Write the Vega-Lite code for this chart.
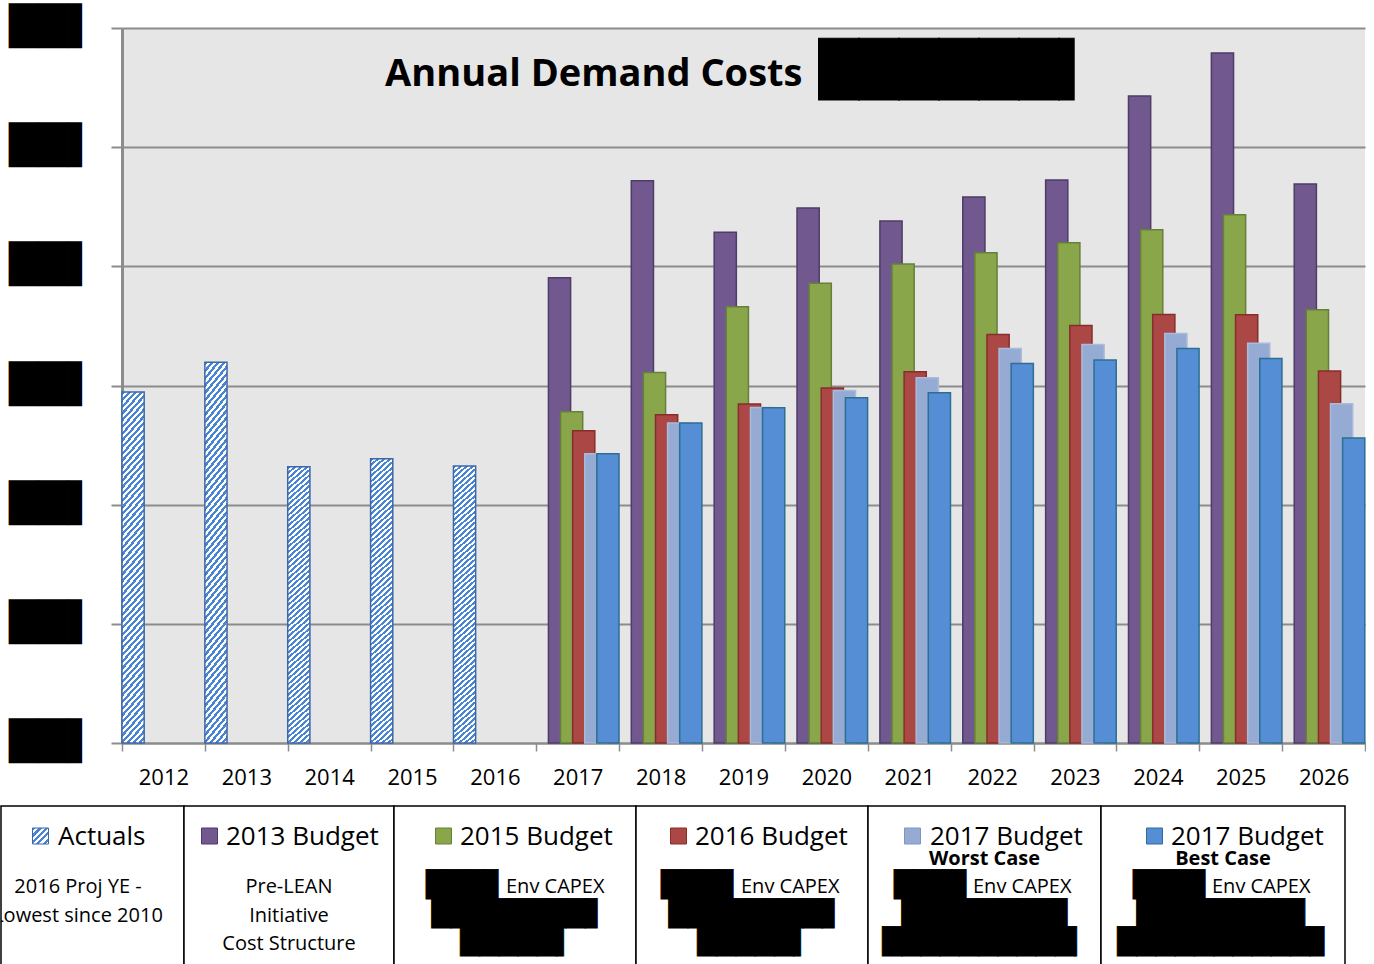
{
"$schema": "https://vega.github.io/schema/vega-lite/v6.json",
"background": "white",
"padding": {"left": 0, "top": 8, "right": 0, "bottom": 0},
"spacing": 17,
"config": {"view": {"stroke": null}, "font": "Open Sans"},
"datasets": {
"bars": [
{"year":"2012","series":"Actuals","value":2.945},
{"year":"2013","series":"Actuals","value":3.196},
{"year":"2014","series":"Actuals","value":2.319},
{"year":"2015","series":"Actuals","value":2.386},
{"year":"2016","series":"Actuals","value":2.325},
{"year":"2017","series":"2013 Budget","value":3.905},
{"year":"2017","series":"2015 Budget","value":2.780},
{"year":"2017","series":"2016 Budget","value":2.620},
{"year":"2017","series":"2017 Budget Worst Case","value":2.428},
{"year":"2017","series":"2017 Budget Best Case","value":2.428},
{"year":"2018","series":"2013 Budget","value":4.718},
{"year":"2018","series":"2015 Budget","value":3.109},
{"year":"2018","series":"2016 Budget","value":2.755},
{"year":"2018","series":"2017 Budget Worst Case","value":2.685},
{"year":"2018","series":"2017 Budget Best Case","value":2.685},
{"year":"2019","series":"2013 Budget","value":4.286},
{"year":"2019","series":"2015 Budget","value":3.660},
{"year":"2019","series":"2016 Budget","value":2.844},
{"year":"2019","series":"2017 Budget Worst Case","value":2.816},
{"year":"2019","series":"2017 Budget Best Case","value":2.813},
{"year":"2020","series":"2013 Budget","value":4.489},
{"year":"2020","series":"2015 Budget","value":3.858},
{"year":"2020","series":"2016 Budget","value":2.978},
{"year":"2020","series":"2017 Budget Worst Case","value":2.958},
{"year":"2020","series":"2017 Budget Best Case","value":2.897},
{"year":"2021","series":"2013 Budget","value":4.380},
{"year":"2021","series":"2015 Budget","value":4.020},
{"year":"2021","series":"2016 Budget","value":3.115},
{"year":"2021","series":"2017 Budget Worst Case","value":3.065},
{"year":"2021","series":"2017 Budget Best Case","value":2.939},
{"year":"2022","series":"2013 Budget","value":4.581},
{"year":"2022","series":"2015 Budget","value":4.115},
{"year":"2022","series":"2016 Budget","value":3.428},
{"year":"2022","series":"2017 Budget Worst Case","value":3.311},
{"year":"2022","series":"2017 Budget Best Case","value":3.185},
{"year":"2023","series":"2013 Budget","value":4.724},
{"year":"2023","series":"2015 Budget","value":4.198},
{"year":"2023","series":"2016 Budget","value":3.503},
{"year":"2023","series":"2017 Budget Worst Case","value":3.344},
{"year":"2023","series":"2017 Budget Best Case","value":3.213},
{"year":"2024","series":"2013 Budget","value":5.430},
{"year":"2024","series":"2015 Budget","value":4.307},
{"year":"2024","series":"2016 Budget","value":3.595},
{"year":"2024","series":"2017 Budget Worst Case","value":3.436},
{"year":"2024","series":"2017 Budget Best Case","value":3.310},
{"year":"2025","series":"2013 Budget","value":5.791},
{"year":"2025","series":"2015 Budget","value":4.433},
{"year":"2025","series":"2016 Budget","value":3.593},
{"year":"2025","series":"2017 Budget Worst Case","value":3.355},
{"year":"2025","series":"2017 Budget Best Case","value":3.226},
{"year":"2026","series":"2013 Budget","value":4.691},
{"year":"2026","series":"2015 Budget","value":3.635},
{"year":"2026","series":"2016 Budget","value":3.121},
{"year":"2026","series":"2017 Budget Worst Case","value":2.847},
{"year":"2026","series":"2017 Budget Best Case","value":2.559}
],
"legend": [
{"cell":"Actuals","row":"title","kind":"icon"},
{"cell":"Actuals","row":"title","kind":"title","text":"Actuals"},
{"cell":"Actuals","row":"l1","kind":"note","text":"2016 Proj YE -"},
{"cell":"Actuals","row":"l2","kind":"note","text":"Lowest since 2010"},
{"cell":"2013 Budget","row":"title","kind":"icon"},
{"cell":"2013 Budget","row":"title","kind":"title","text":"2013 Budget"},
{"cell":"2013 Budget","row":"l1","kind":"note","text":"Pre-LEAN"},
{"cell":"2013 Budget","row":"l2","kind":"note","text":"Initiative"},
{"cell":"2013 Budget","row":"l3","kind":"note","text":"Cost Structure"},
{"cell":"2015 Budget","row":"title","kind":"icon"},
{"cell":"2015 Budget","row":"title","kind":"title","text":"2015 Budget"},
{"cell":"2015 Budget","row":"l1","kind":"redact1","text":"███▊"},
{"cell":"2015 Budget","row":"l1","kind":"env","text":"Env CAPEX"},
{"cell":"2015 Budget","row":"l2","kind":"redact","text":"████████▋"},
{"cell":"2015 Budget","row":"l3","kind":"redact","text":"█████▍"},
{"cell":"2016 Budget","row":"title","kind":"icon"},
{"cell":"2016 Budget","row":"title","kind":"title","text":"2016 Budget"},
{"cell":"2016 Budget","row":"l1","kind":"redact1","text":"███▊"},
{"cell":"2016 Budget","row":"l1","kind":"env","text":"Env CAPEX"},
{"cell":"2016 Budget","row":"l2","kind":"redact","text":"████████▋"},
{"cell":"2016 Budget","row":"l3","kind":"redact","text":"█████▍"},
{"cell":"2017 Budget Worst Case","row":"title","kind":"icon"},
{"cell":"2017 Budget Worst Case","row":"title","kind":"title","text":"2017 Budget"},
{"cell":"2017 Budget Worst Case","row":"case","kind":"case","text":"Worst Case"},
{"cell":"2017 Budget Worst Case","row":"l1","kind":"redact1","text":"███▊"},
{"cell":"2017 Budget Worst Case","row":"l1","kind":"env","text":"Env CAPEX"},
{"cell":"2017 Budget Worst Case","row":"l2","kind":"redact","text":"████████▋"},
{"cell":"2017 Budget Worst Case","row":"l3","kind":"redact","text":"██████████▏"},
{"cell":"2017 Budget Best Case","row":"title","kind":"icon"},
{"cell":"2017 Budget Best Case","row":"title","kind":"title","text":"2017 Budget"},
{"cell":"2017 Budget Best Case","row":"case","kind":"case","text":"Best Case"},
{"cell":"2017 Budget Best Case","row":"l1","kind":"redact1","text":"███▊"},
{"cell":"2017 Budget Best Case","row":"l1","kind":"env","text":"Env CAPEX"},
{"cell":"2017 Budget Best Case","row":"l2","kind":"redact","text":"████████▊"},
{"cell":"2017 Budget Best Case","row":"l3","kind":"redact","text":"██████████▊"}
]
},
"vconcat": [
{
"hconcat": [
{
"width": 1,
"height": 715,
"view": {"fill": "#fff", "stroke": null},
"data": {"values": []},
"mark": "point"
},
{
"width": 1243,
"height": 715,
"view": {"fill": "#e6e6e6", "stroke": null},
"data": {"name": "bars"},
"layer": [
{
"transform": [{"filter": "datum.series != 'Actuals'"}],
"mark": {"type": "bar", "width": {"band": 1.833}, "strokeWidth": 1.5},
"encoding": {
"x": {"field": "year", "type": "ordinal", "scale": {"paddingInner": 0, "paddingOuter": 0},
"axis": {"title": null, "labelAngle": 0, "labelFont": "Open Sans", "labelFontSize": 22, "labelColor": "#000", "labelPadding": 16, "tickBand": "extent", "tickSize": 8, "tickColor": "#8c8c8c", "tickWidth": 1.5, "domainColor": "#8c8c8c", "domainWidth": 2, "grid": false}},
"xOffset": {"field": "series", "type": "nominal", "scale": {"domain": ["Actuals", "2013 Budget", "2015 Budget", "2016 Budget", "2017 Budget Worst Case", "2017 Budget Best Case"], "paddingInner": 0, "paddingOuter": 0, "range": [34.51, 107.11]}},
"y": {"field": "value", "type": "quantitative", "scale": {"domain": [0, 6], "nice": false},
"axis": {"title": null, "values": [0, 1, 2, 3, 4, 5, 6], "labelExpr": "'██▌'", "labelFont": "DejaVu Sans", "labelFontSize": 38, "labelColor": "#000", "labelPadding": 15, "labelOffset": -0.5, "tickSize": 11, "tickColor": "#8c8c8c", "tickWidth": 2, "domainColor": "#8c8c8c", "domainWidth": 3, "grid": true, "gridColor": "#8c8c8c", "gridWidth": 2, "minExtent": 120}},
"fill": {"field": "series", "type": "nominal", "legend": null, "scale": {"domain": ["2013 Budget", "2015 Budget", "2016 Budget", "2017 Budget Worst Case", "2017 Budget Best Case"], "range": ["#71588f", "#8aa64b", "#ab4744", "#95abd3", "#558ed5"]}},
"stroke": {"field": "series", "type": "nominal", "legend": null, "scale": {"domain": ["2013 Budget", "2015 Budget", "2016 Budget", "2017 Budget Worst Case", "2017 Budget Best Case"], "range": ["#4e3d66", "#66803a", "#862e2c", "#aabbd9", "#2c6f92"]}}
}
},
{
"transform": [{"filter": "datum.series == 'Actuals'"}],
"mark": {"type": "bar", "width": {"band": 1.833}, "strokeWidth": 1.5, "stroke": "#3d68a8",
"fill": {"gradient": "linear", "x1": 0, "y1": 0, "x2": 0.075, "y2": 1.065, "stops": [
{"offset":0,"color":"#4a84d4"},
{"offset":0.00893,"color":"#4a84d4"},{"offset":0.00893,"color":"#fff"},
{"offset":0.01786,"color":"#fff"},{"offset":0.01786,"color":"#4a84d4"},
{"offset":0.02679,"color":"#4a84d4"},{"offset":0.02679,"color":"#fff"},
{"offset":0.03571,"color":"#fff"},{"offset":0.03571,"color":"#4a84d4"},
{"offset":0.04464,"color":"#4a84d4"},{"offset":0.04464,"color":"#fff"},
{"offset":0.05357,"color":"#fff"},{"offset":0.05357,"color":"#4a84d4"},
{"offset":0.0625,"color":"#4a84d4"},{"offset":0.0625,"color":"#fff"},
{"offset":0.07143,"color":"#fff"},{"offset":0.07143,"color":"#4a84d4"},
{"offset":0.08036,"color":"#4a84d4"},{"offset":0.08036,"color":"#fff"},
{"offset":0.08929,"color":"#fff"},{"offset":0.08929,"color":"#4a84d4"},
{"offset":0.09821,"color":"#4a84d4"},{"offset":0.09821,"color":"#fff"},
{"offset":0.10714,"color":"#fff"},{"offset":0.10714,"color":"#4a84d4"},
{"offset":0.11607,"color":"#4a84d4"},{"offset":0.11607,"color":"#fff"},
{"offset":0.125,"color":"#fff"},{"offset":0.125,"color":"#4a84d4"},
{"offset":0.13393,"color":"#4a84d4"},{"offset":0.13393,"color":"#fff"},
{"offset":0.14286,"color":"#fff"},{"offset":0.14286,"color":"#4a84d4"},
{"offset":0.15179,"color":"#4a84d4"},{"offset":0.15179,"color":"#fff"},
{"offset":0.16071,"color":"#fff"},{"offset":0.16071,"color":"#4a84d4"},
{"offset":0.16964,"color":"#4a84d4"},{"offset":0.16964,"color":"#fff"},
{"offset":0.17857,"color":"#fff"},{"offset":0.17857,"color":"#4a84d4"},
{"offset":0.1875,"color":"#4a84d4"},{"offset":0.1875,"color":"#fff"},
{"offset":0.19643,"color":"#fff"},{"offset":0.19643,"color":"#4a84d4"},
{"offset":0.20536,"color":"#4a84d4"},{"offset":0.20536,"color":"#fff"},
{"offset":0.21429,"color":"#fff"},{"offset":0.21429,"color":"#4a84d4"},
{"offset":0.22321,"color":"#4a84d4"},{"offset":0.22321,"color":"#fff"},
{"offset":0.23214,"color":"#fff"},{"offset":0.23214,"color":"#4a84d4"},
{"offset":0.24107,"color":"#4a84d4"},{"offset":0.24107,"color":"#fff"},
{"offset":0.25,"color":"#fff"},{"offset":0.25,"color":"#4a84d4"},
{"offset":0.25893,"color":"#4a84d4"},{"offset":0.25893,"color":"#fff"},
{"offset":0.26786,"color":"#fff"},{"offset":0.26786,"color":"#4a84d4"},
{"offset":0.27679,"color":"#4a84d4"},{"offset":0.27679,"color":"#fff"},
{"offset":0.28571,"color":"#fff"},{"offset":0.28571,"color":"#4a84d4"},
{"offset":0.29464,"color":"#4a84d4"},{"offset":0.29464,"color":"#fff"},
{"offset":0.30357,"color":"#fff"},{"offset":0.30357,"color":"#4a84d4"},
{"offset":0.3125,"color":"#4a84d4"},{"offset":0.3125,"color":"#fff"},
{"offset":0.32143,"color":"#fff"},{"offset":0.32143,"color":"#4a84d4"},
{"offset":0.33036,"color":"#4a84d4"},{"offset":0.33036,"color":"#fff"},
{"offset":0.33929,"color":"#fff"},{"offset":0.33929,"color":"#4a84d4"},
{"offset":0.34821,"color":"#4a84d4"},{"offset":0.34821,"color":"#fff"},
{"offset":0.35714,"color":"#fff"},{"offset":0.35714,"color":"#4a84d4"},
{"offset":0.36607,"color":"#4a84d4"},{"offset":0.36607,"color":"#fff"},
{"offset":0.375,"color":"#fff"},{"offset":0.375,"color":"#4a84d4"},
{"offset":0.38393,"color":"#4a84d4"},{"offset":0.38393,"color":"#fff"},
{"offset":0.39286,"color":"#fff"},{"offset":0.39286,"color":"#4a84d4"},
{"offset":0.40179,"color":"#4a84d4"},{"offset":0.40179,"color":"#fff"},
{"offset":0.41071,"color":"#fff"},{"offset":0.41071,"color":"#4a84d4"},
{"offset":0.41964,"color":"#4a84d4"},{"offset":0.41964,"color":"#fff"},
{"offset":0.42857,"color":"#fff"},{"offset":0.42857,"color":"#4a84d4"},
{"offset":0.4375,"color":"#4a84d4"},{"offset":0.4375,"color":"#fff"},
{"offset":0.44643,"color":"#fff"},{"offset":0.44643,"color":"#4a84d4"},
{"offset":0.45536,"color":"#4a84d4"},{"offset":0.45536,"color":"#fff"},
{"offset":0.46429,"color":"#fff"},{"offset":0.46429,"color":"#4a84d4"},
{"offset":0.47321,"color":"#4a84d4"},{"offset":0.47321,"color":"#fff"},
{"offset":0.48214,"color":"#fff"},{"offset":0.48214,"color":"#4a84d4"},
{"offset":0.49107,"color":"#4a84d4"},{"offset":0.49107,"color":"#fff"},
{"offset":0.5,"color":"#fff"},{"offset":0.5,"color":"#4a84d4"},
{"offset":0.50893,"color":"#4a84d4"},{"offset":0.50893,"color":"#fff"},
{"offset":0.51786,"color":"#fff"},{"offset":0.51786,"color":"#4a84d4"},
{"offset":0.52679,"color":"#4a84d4"},{"offset":0.52679,"color":"#fff"},
{"offset":0.53571,"color":"#fff"},{"offset":0.53571,"color":"#4a84d4"},
{"offset":0.54464,"color":"#4a84d4"},{"offset":0.54464,"color":"#fff"},
{"offset":0.55357,"color":"#fff"},{"offset":0.55357,"color":"#4a84d4"},
{"offset":0.5625,"color":"#4a84d4"},{"offset":0.5625,"color":"#fff"},
{"offset":0.57143,"color":"#fff"},{"offset":0.57143,"color":"#4a84d4"},
{"offset":0.58036,"color":"#4a84d4"},{"offset":0.58036,"color":"#fff"},
{"offset":0.58929,"color":"#fff"},{"offset":0.58929,"color":"#4a84d4"},
{"offset":0.59821,"color":"#4a84d4"},{"offset":0.59821,"color":"#fff"},
{"offset":0.60714,"color":"#fff"},{"offset":0.60714,"color":"#4a84d4"},
{"offset":0.61607,"color":"#4a84d4"},{"offset":0.61607,"color":"#fff"},
{"offset":0.625,"color":"#fff"},{"offset":0.625,"color":"#4a84d4"},
{"offset":0.63393,"color":"#4a84d4"},{"offset":0.63393,"color":"#fff"},
{"offset":0.64286,"color":"#fff"},{"offset":0.64286,"color":"#4a84d4"},
{"offset":0.65179,"color":"#4a84d4"},{"offset":0.65179,"color":"#fff"},
{"offset":0.66071,"color":"#fff"},{"offset":0.66071,"color":"#4a84d4"},
{"offset":0.66964,"color":"#4a84d4"},{"offset":0.66964,"color":"#fff"},
{"offset":0.67857,"color":"#fff"},{"offset":0.67857,"color":"#4a84d4"},
{"offset":0.6875,"color":"#4a84d4"},{"offset":0.6875,"color":"#fff"},
{"offset":0.69643,"color":"#fff"},{"offset":0.69643,"color":"#4a84d4"},
{"offset":0.70536,"color":"#4a84d4"},{"offset":0.70536,"color":"#fff"},
{"offset":0.71429,"color":"#fff"},{"offset":0.71429,"color":"#4a84d4"},
{"offset":0.72321,"color":"#4a84d4"},{"offset":0.72321,"color":"#fff"},
{"offset":0.73214,"color":"#fff"},{"offset":0.73214,"color":"#4a84d4"},
{"offset":0.74107,"color":"#4a84d4"},{"offset":0.74107,"color":"#fff"},
{"offset":0.75,"color":"#fff"},{"offset":0.75,"color":"#4a84d4"},
{"offset":0.75893,"color":"#4a84d4"},{"offset":0.75893,"color":"#fff"},
{"offset":0.76786,"color":"#fff"},{"offset":0.76786,"color":"#4a84d4"},
{"offset":0.77679,"color":"#4a84d4"},{"offset":0.77679,"color":"#fff"},
{"offset":0.78571,"color":"#fff"},{"offset":0.78571,"color":"#4a84d4"},
{"offset":0.79464,"color":"#4a84d4"},{"offset":0.79464,"color":"#fff"},
{"offset":0.80357,"color":"#fff"},{"offset":0.80357,"color":"#4a84d4"},
{"offset":0.8125,"color":"#4a84d4"},{"offset":0.8125,"color":"#fff"},
{"offset":0.82143,"color":"#fff"},{"offset":0.82143,"color":"#4a84d4"},
{"offset":0.83036,"color":"#4a84d4"},{"offset":0.83036,"color":"#fff"},
{"offset":0.83929,"color":"#fff"},{"offset":0.83929,"color":"#4a84d4"},
{"offset":0.84821,"color":"#4a84d4"},{"offset":0.84821,"color":"#fff"},
{"offset":0.85714,"color":"#fff"},{"offset":0.85714,"color":"#4a84d4"},
{"offset":0.86607,"color":"#4a84d4"},{"offset":0.86607,"color":"#fff"},
{"offset":0.875,"color":"#fff"},{"offset":0.875,"color":"#4a84d4"},
{"offset":0.88393,"color":"#4a84d4"},{"offset":0.88393,"color":"#fff"},
{"offset":0.89286,"color":"#fff"},{"offset":0.89286,"color":"#4a84d4"},
{"offset":0.90179,"color":"#4a84d4"},{"offset":0.90179,"color":"#fff"},
{"offset":0.91071,"color":"#fff"},{"offset":0.91071,"color":"#4a84d4"},
{"offset":0.91964,"color":"#4a84d4"},{"offset":0.91964,"color":"#fff"},
{"offset":0.92857,"color":"#fff"},{"offset":0.92857,"color":"#4a84d4"},
{"offset":0.9375,"color":"#4a84d4"},{"offset":0.9375,"color":"#fff"},
{"offset":0.94643,"color":"#fff"},{"offset":0.94643,"color":"#4a84d4"},
{"offset":0.95536,"color":"#4a84d4"},{"offset":0.95536,"color":"#fff"},
{"offset":0.96429,"color":"#fff"},{"offset":0.96429,"color":"#4a84d4"},
{"offset":0.97321,"color":"#4a84d4"},{"offset":0.97321,"color":"#fff"},
{"offset":0.98214,"color":"#fff"},{"offset":0.98214,"color":"#4a84d4"},
{"offset":0.99107,"color":"#4a84d4"},{"offset":0.99107,"color":"#fff"},
{"offset":1,"color":"#fff"}
]}},
"encoding": {
"x": {"field": "year", "type": "ordinal"},
"xOffset": {"field": "series", "type": "nominal"},
"y": {"field": "value", "type": "quantitative"}
}
},
{
"data": {"values": [{}]},
"mark": {"type": "text", "text": "Annual Demand Costs", "font": "Open Sans", "fontWeight": "bold", "fontSize": 38, "align": "center", "baseline": "alphabetic", "dx": 16, "color": "#000"},
"encoding": {"x": {"datum": "2017", "type": "ordinal"}, "y": {"datum": 5.51, "type": "quantitative"}}
},
{
"data": {"values": [{}]},
"mark": {"type": "text", "text": "██████▍", "font": "DejaVu Sans", "fontSize": 52, "align": "center", "baseline": "middle", "dx": 50, "color": "#000", "stroke": "#000", "strokeWidth": 1},
"encoding": {"x": {"datum": "2021", "type": "ordinal"}, "y": {"datum": 5.639, "type": "quantitative"}}
}
]
}
],
"spacing": 0
},
{
"hconcat": [
{
"width": 183, "height": 160,
"view": {"stroke": "#000", "strokeWidth": 1.5, "fill": "#fff"},
"data": {"name": "legend"},
"transform": [{"filter": {"field": "cell", "equal": "Actuals"}}],
"encoding": {
"x": {"field": "cell", "type": "nominal", "axis": null, "scale": {"type": "point"}},
"y": {"field": "row", "type": "nominal", "axis": null, "scale": {"type": "point", "padding": 0, "domain": ["title", "case", "l1", "l2", "l3"], "range": [30, 144]}}
},
"layer": [
{"transform": [{"filter": {"field": "kind", "equal": "icon"}}],
"mark": {"type": "point", "shape": "square", "size": 256, "filled": true, "opacity": 1, "stroke": "#3d68a8", "strokeWidth": 1, "xOffset": -52,
"fill": {"gradient": "linear", "x1": 0, "y1": 0, "x2": 1, "y2": 1, "stops": [
{"offset":0,"color":"#4a84d4"},{"offset":0.1,"color":"#4a84d4"},{"offset":0.1,"color":"#fff"},{"offset":0.2,"color":"#fff"},{"offset":0.2,"color":"#4a84d4"},{"offset":0.3,"color":"#4a84d4"},{"offset":0.3,"color":"#fff"},{"offset":0.4,"color":"#fff"},{"offset":0.4,"color":"#4a84d4"},{"offset":0.5,"color":"#4a84d4"},{"offset":0.5,"color":"#fff"},{"offset":0.6,"color":"#fff"},{"offset":0.6,"color":"#4a84d4"},{"offset":0.7,"color":"#4a84d4"},{"offset":0.7,"color":"#fff"},{"offset":0.8,"color":"#fff"},{"offset":0.8,"color":"#4a84d4"},{"offset":0.9,"color":"#4a84d4"},{"offset":0.9,"color":"#fff"},{"offset":1,"color":"#fff"}
]}}},
{"transform": [{"filter": {"field": "kind", "equal": "title"}}],
"mark": {"type": "text", "align": "left", "baseline": "alphabetic", "dx": -34.5, "dy": 9, "fontSize": 26, "font": "Open Sans", "color": "#000"},
"encoding": {"text": {"field": "text", "type": "nominal"}}},
{"transform": [{"filter": {"field": "kind", "equal": "note"}}],
"mark": {"type": "text", "align": "center", "baseline": "alphabetic", "dx": -14.5, "fontSize": 20, "font": "Open Sans", "color": "#000", "clip": true},
"encoding": {"text": {"field": "text", "type": "nominal"}}}
]
},
{
"width": 210, "height": 160,
"view": {"stroke": "#000", "strokeWidth": 1.5, "fill": "#fff"},
"data": {"name": "legend"},
"transform": [{"filter": {"field": "cell", "equal": "2013 Budget"}}],
"encoding": {
"x": {"field": "cell", "type": "nominal", "axis": null, "scale": {"type": "point"}},
"y": {"field": "row", "type": "nominal", "axis": null, "scale": {"type": "point", "padding": 0, "domain": ["title", "case", "l1", "l2", "l3"], "range": [30, 144]}}
},
"layer": [
{"transform": [{"filter": {"field": "kind", "equal": "icon"}}],
"mark": {"type": "point", "shape": "square", "size": 256, "filled": true, "opacity": 1, "fill": "#71588f", "stroke": "#4e3d66", "strokeWidth": 1, "xOffset": -79.5}},
{"transform": [{"filter": {"field": "kind", "equal": "title"}}],
"mark": {"type": "text", "align": "left", "baseline": "alphabetic", "dx": -63, "dy": 9, "fontSize": 26, "font": "Open Sans", "color": "#000"},
"encoding": {"text": {"field": "text", "type": "nominal"}}},
{"transform": [{"filter": {"field": "kind", "equal": "note"}}],
"mark": {"type": "text", "align": "center", "baseline": "alphabetic", "fontSize": 20, "font": "Open Sans", "color": "#000"},
"encoding": {"text": {"field": "text", "type": "nominal"}}}
]
},
{
"width": 242, "height": 160,
"view": {"stroke": "#000", "strokeWidth": 1.5, "fill": "#fff"},
"data": {"name": "legend"},
"transform": [{"filter": {"field": "cell", "equal": "2015 Budget"}}],
"encoding": {
"x": {"field": "cell", "type": "nominal", "axis": null, "scale": {"type": "point"}},
"y": {"field": "row", "type": "nominal", "axis": null, "scale": {"type": "point", "padding": 0, "domain": ["title", "case", "l1", "l2", "l3"], "range": [30, 144]}}
},
"layer": [
{"transform": [{"filter": {"field": "kind", "equal": "icon"}}],
"mark": {"type": "point", "shape": "square", "size": 256, "filled": true, "opacity": 1, "fill": "#8aa64b", "stroke": "#66803a", "strokeWidth": 1, "xOffset": -71.5}},
{"transform": [{"filter": {"field": "kind", "equal": "title"}}],
"mark": {"type": "text", "align": "left", "baseline": "alphabetic", "dx": -55, "dy": 9, "fontSize": 26, "font": "Open Sans", "color": "#000"},
"encoding": {"text": {"field": "text", "type": "nominal"}}},
{"transform": [{"filter": {"field": "kind", "equal": "redact1"}}],
"mark": {"type": "text", "align": "right", "baseline": "alphabetic", "dx": -12.2, "fontSize": 25, "font": "DejaVu Sans", "color": "#000", "stroke": "#000", "strokeWidth": 0.8},
"encoding": {"text": {"field": "text", "type": "nominal"}}},
{"transform": [{"filter": {"field": "kind", "equal": "env"}}],
"mark": {"type": "text", "align": "left", "baseline": "alphabetic", "dx": -9, "fontSize": 20, "font": "Open Sans", "color": "#000"},
"encoding": {"text": {"field": "text", "type": "nominal"}}},
{"transform": [{"filter": {"field": "kind", "equal": "redact"}}],
"mark": {"type": "text", "align": "center", "baseline": "alphabetic", "dx": 3, "fontSize": 25, "font": "DejaVu Sans", "color": "#000", "stroke": "#000", "strokeWidth": 0.8},
"encoding": {"text": {"field": "text", "type": "nominal"}}}
]
},
{
"width": 232, "height": 160,
"view": {"stroke": "#000", "strokeWidth": 1.5, "fill": "#fff"},
"data": {"name": "legend"},
"transform": [{"filter": {"field": "cell", "equal": "2016 Budget"}}],
"encoding": {
"x": {"field": "cell", "type": "nominal", "axis": null, "scale": {"type": "point"}},
"y": {"field": "row", "type": "nominal", "axis": null, "scale": {"type": "point", "padding": 0, "domain": ["title", "case", "l1", "l2", "l3"], "range": [30, 144]}}
},
"layer": [
{"transform": [{"filter": {"field": "kind", "equal": "icon"}}],
"mark": {"type": "point", "shape": "square", "size": 256, "filled": true, "opacity": 1, "fill": "#ab4744", "stroke": "#862e2c", "strokeWidth": 1, "xOffset": -73.5}},
{"transform": [{"filter": {"field": "kind", "equal": "title"}}],
"mark": {"type": "text", "align": "left", "baseline": "alphabetic", "dx": -57, "dy": 9, "fontSize": 26, "font": "Open Sans", "color": "#000"},
"encoding": {"text": {"field": "text", "type": "nominal"}}},
{"transform": [{"filter": {"field": "kind", "equal": "redact1"}}],
"mark": {"type": "text", "align": "right", "baseline": "alphabetic", "dx": -14.2, "fontSize": 25, "font": "DejaVu Sans", "color": "#000", "stroke": "#000", "strokeWidth": 0.8},
"encoding": {"text": {"field": "text", "type": "nominal"}}},
{"transform": [{"filter": {"field": "kind", "equal": "env"}}],
"mark": {"type": "text", "align": "left", "baseline": "alphabetic", "dx": -11, "fontSize": 20, "font": "Open Sans", "color": "#000"},
"encoding": {"text": {"field": "text", "type": "nominal"}}},
{"transform": [{"filter": {"field": "kind", "equal": "redact"}}],
"mark": {"type": "text", "align": "center", "baseline": "alphabetic", "dx": 3, "fontSize": 25, "font": "DejaVu Sans", "color": "#000", "stroke": "#000", "strokeWidth": 0.8},
"encoding": {"text": {"field": "text", "type": "nominal"}}}
]
},
{
"width": 233, "height": 160,
"view": {"stroke": "#000", "strokeWidth": 1.5, "fill": "#fff"},
"data": {"name": "legend"},
"transform": [{"filter": {"field": "cell", "equal": "2017 Budget Worst Case"}}],
"encoding": {
"x": {"field": "cell", "type": "nominal", "axis": null, "scale": {"type": "point"}},
"y": {"field": "row", "type": "nominal", "axis": null, "scale": {"type": "point", "padding": 0, "domain": ["title", "case", "l1", "l2", "l3"], "range": [30, 144]}}
},
"layer": [
{"transform": [{"filter": {"field": "kind", "equal": "icon"}}],
"mark": {"type": "point", "shape": "square", "size": 256, "filled": true, "opacity": 1, "fill": "#95abd3", "stroke": "#7f95be", "strokeWidth": 1, "xOffset": -72}},
{"transform": [{"filter": {"field": "kind", "equal": "title"}}],
"mark": {"type": "text", "align": "left", "baseline": "alphabetic", "dx": -54.5, "dy": 9, "fontSize": 26, "font": "Open Sans", "color": "#000"},
"encoding": {"text": {"field": "text", "type": "nominal"}}},
{"transform": [{"filter": {"field": "kind", "equal": "case"}}],
"mark": {"type": "text", "align": "center", "baseline": "alphabetic", "fontSize": 20, "font": "Open Sans", "fontWeight": "bold", "color": "#000"},
"encoding": {"text": {"field": "text", "type": "nominal"}}},
{"transform": [{"filter": {"field": "kind", "equal": "redact1"}}],
"mark": {"type": "text", "align": "right", "baseline": "alphabetic", "dx": -13.7, "fontSize": 25, "font": "DejaVu Sans", "color": "#000", "stroke": "#000", "strokeWidth": 0.8},
"encoding": {"text": {"field": "text", "type": "nominal"}}},
{"transform": [{"filter": {"field": "kind", "equal": "env"}}],
"mark": {"type": "text", "align": "left", "baseline": "alphabetic", "dx": -11.5, "fontSize": 20, "font": "Open Sans", "color": "#000"},
"encoding": {"text": {"field": "text", "type": "nominal"}}},
{"transform": [{"filter": {"field": "kind", "equal": "redact"}}],
"mark": {"type": "text", "align": "center", "baseline": "alphabetic", "dx": 3.5, "fontSize": 25, "font": "DejaVu Sans", "color": "#000", "stroke": "#000", "strokeWidth": 0.8},
"encoding": {"text": {"field": "text", "type": "nominal"}}}
]
},
{
"width": 244, "height": 160,
"view": {"stroke": "#000", "strokeWidth": 1.5, "fill": "#fff"},
"data": {"name": "legend"},
"transform": [{"filter": {"field": "cell", "equal": "2017 Budget Best Case"}}],
"encoding": {
"x": {"field": "cell", "type": "nominal", "axis": null, "scale": {"type": "point"}},
"y": {"field": "row", "type": "nominal", "axis": null, "scale": {"type": "point", "padding": 0, "domain": ["title", "case", "l1", "l2", "l3"], "range": [30, 144]}}
},
"layer": [
{"transform": [{"filter": {"field": "kind", "equal": "icon"}}],
"mark": {"type": "point", "shape": "square", "size": 256, "filled": true, "opacity": 1, "fill": "#558ed5", "stroke": "#2c6f92", "strokeWidth": 1, "xOffset": -68.5}},
{"transform": [{"filter": {"field": "kind", "equal": "title"}}],
"mark": {"type": "text", "align": "left", "baseline": "alphabetic", "dx": -52, "dy": 9, "fontSize": 26, "font": "Open Sans", "color": "#000"},
"encoding": {"text": {"field": "text", "type": "nominal"}}},
{"transform": [{"filter": {"field": "kind", "equal": "case"}}],
"mark": {"type": "text", "align": "center", "baseline": "alphabetic", "fontSize": 20, "font": "Open Sans", "fontWeight": "bold", "color": "#000"},
"encoding": {"text": {"field": "text", "type": "nominal"}}},
{"transform": [{"filter": {"field": "kind", "equal": "redact1"}}],
"mark": {"type": "text", "align": "right", "baseline": "alphabetic", "dx": -13.2, "fontSize": 25, "font": "DejaVu Sans", "color": "#000", "stroke": "#000", "strokeWidth": 0.8},
"encoding": {"text": {"field": "text", "type": "nominal"}}},
{"transform": [{"filter": {"field": "kind", "equal": "env"}}],
"mark": {"type": "text", "align": "left", "baseline": "alphabetic", "dx": -11, "fontSize": 20, "font": "Open Sans", "color": "#000"},
"encoding": {"text": {"field": "text", "type": "nominal"}}},
{"transform": [{"filter": {"field": "kind", "equal": "redact"}}],
"mark": {"type": "text", "align": "center", "baseline": "alphabetic", "dx": 0, "fontSize": 25, "font": "DejaVu Sans", "color": "#000", "stroke": "#000", "strokeWidth": 0.8},
"encoding": {"text": {"field": "text", "type": "nominal"}}}
]
}
],
"spacing": 0,
"bounds": "flush"
}
]
}
